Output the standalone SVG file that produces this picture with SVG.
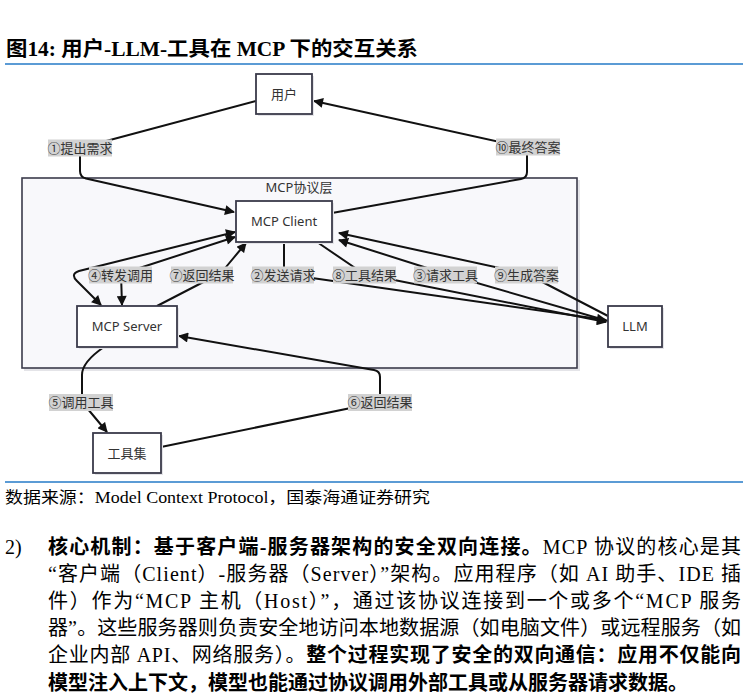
<svg xmlns="http://www.w3.org/2000/svg" width="748" height="700" viewBox="0 0 748 700">
<defs>
<marker id="arr" viewBox="0 0 10 10" refX="9" refY="5" markerUnits="userSpaceOnUse" markerWidth="11" markerHeight="10" orient="auto-start-reverse">
<path d="M0,0 L10,5 L0,10 z" fill="#111"/>
</marker>
<style>
.node rect.b{fill:#fff;stroke:#3a3a4a;stroke-width:1.8}
.sh{fill:#e4e4e8}
.nt{font-family:"Noto Sans","Noto Sans CJK SC",sans-serif;font-size:13px;fill:#333;text-anchor:middle}
.e{fill:none;stroke:#111;stroke-width:2;stroke-linejoin:round}
.lb rect{fill:#d2d2d2}
.lb text{font-family:"Noto Sans CJK SC",sans-serif;font-size:13px;fill:#333;text-anchor:middle}
.rule{stroke:#5b9bd5;stroke-width:2}
.body{font-family:"Liberation Serif","Noto Sans CJK SC",serif;font-size:20px;fill:#000}
.bd{font-weight:bold}
</style>
</defs>
<rect width="748" height="700" fill="#fff"/>
<text x="6" y="56" class="body bd" style="font-size:20px" textLength="412" lengthAdjust="spacingAndGlyphs">图14:  用户-LLM-工具在 MCP 下的交互关系</text>
<line class="rule" x1="5" y1="64" x2="743" y2="64"/>

<g id="layer">
<rect class="sh" x="24" y="180" width="556" height="191"/>
<rect x="22" y="178" width="555" height="190" fill="#f8f8fb" stroke="#3b3b4b" stroke-width="1.6"/>
<text class="nt" x="299" y="192">MCP协议层</text>
</g>

<g id="connectors">
<path class="e" d="M256,101 L80,148 L80,171 Q80,177 86,178.5 L234,212" marker-end="url(#arr)"/>
<path class="e" d="M332,213 L521,179 Q527,178 527,172 L527,148 L314,101" marker-end="url(#arr)"/>
<path class="e" d="M284,242 L284,274 L606,320" marker-end="url(#arr)"/>
<path class="e" d="M317,242 L364,274 L606,322" marker-end="url(#arr)"/>
<path class="e" d="M608,321 L446,274 L339,240" marker-end="url(#arr)"/>
<path class="e" d="M608,316 L527,274 L339,233" marker-end="url(#arr)"/>
<path class="e" d="M235,232 L79,271 Q70,274 77,281 L101,305" marker-start="url(#arr)" marker-end="url(#arr)"/>
<path class="e" d="M235,237 L121,274 L122,305" marker-start="url(#arr)" marker-end="url(#arr)"/>
<path class="e" d="M157,306 L215,276 Q222,272 226,267 L246,243" marker-end="url(#arr)"/>
<path class="e" d="M104,347 Q82,362 82,375 L82,402 L107,432" marker-end="url(#arr)"/>
<path class="e" d="M161,447 L380,402 L380,377 Q380,371 374,370 L179,336" marker-end="url(#arr)"/>
</g>

<g id="labels">
<g class="lb"><rect x="48" y="139.5" width="64" height="17"/><text x="80" y="152.5">①提出需求</text></g>
<g class="lb"><rect x="496" y="138.5" width="64" height="17"/><text x="528" y="151.5">⑩最终答案</text></g>
<g class="lb"><rect x="89" y="266.5" width="63" height="17"/><text x="120.5" y="279.5">④转发调用</text></g>
<g class="lb"><rect x="171" y="266.5" width="62" height="17"/><text x="202" y="279.5">⑦返回结果</text></g>
<g class="lb"><rect x="252" y="266.5" width="62" height="17"/><text x="283" y="279.5">②发送请求</text></g>
<g class="lb"><rect x="333" y="266.5" width="63" height="17"/><text x="364.5" y="279.5">⑧工具结果</text></g>
<g class="lb"><rect x="414" y="266.5" width="63" height="17"/><text x="445.5" y="279.5">③请求工具</text></g>
<g class="lb"><rect x="495" y="266.5" width="63" height="17"/><text x="526.5" y="279.5">⑨生成答案</text></g>
<g class="lb"><rect x="49" y="394" width="64" height="17"/><text x="81" y="407">⑤调用工具</text></g>
<g class="lb"><rect x="348" y="394" width="64" height="17"/><text x="380" y="407">⑥返回结果</text></g>
</g>

<g id="user" class="node"><rect class="sh" x="258" y="76" width="56" height="40"/><rect class="b" x="256" y="74" width="56" height="40"/><text class="nt" x="284" y="98.5">用户</text></g>
<g id="client" class="node"><rect class="sh" x="238" y="203" width="96" height="41"/><rect class="b" x="236" y="201" width="96" height="41"/><text class="nt" x="284" y="226">MCP Client</text></g>
<g id="server" class="node"><rect class="sh" x="79" y="308" width="100" height="41"/><rect class="b" x="77" y="306" width="100" height="41"/><text class="nt" x="127" y="331">MCP Server</text></g>
<g id="llm" class="node"><rect class="sh" x="610" y="308" width="54" height="41"/><rect class="b" x="608" y="306" width="54" height="41"/><text class="nt" x="635" y="331">LLM</text></g>
<g id="tools" class="node"><rect class="sh" x="95" y="435" width="68" height="40"/><rect class="b" x="93" y="433" width="68" height="40"/><text class="nt" x="127" y="457.5">工具集</text></g>

<line class="rule" x1="5" y1="482" x2="743" y2="482"/>
<text x="5" y="503" class="body" style="font-size:16px" textLength="425" lengthAdjust="spacingAndGlyphs">数据来源：Model Context Protocol，国泰海通证券研究</text>

<text x="5" y="554" class="body">2)</text>
<text x="48" y="554" class="body" textLength="693" lengthAdjust="spacing"><tspan class="bd">核心机制：基于客户端-服务器架构的安全双向连接。</tspan>MCP 协议的核心是其</text>
<text x="48" y="581" class="body" textLength="693" lengthAdjust="spacing">“客户端（Client）-服务器（Server）”架构。应用程序（如 AI 助手、IDE 插</text>
<text x="48" y="608" class="body" textLength="693" lengthAdjust="spacing">件）作为“MCP 主机（Host）”，通过该协议连接到一个或多个“MCP 服务</text>
<text x="48" y="635" class="body" textLength="693" lengthAdjust="spacing">器”。这些服务器则负责安全地访问本地数据源（如电脑文件）或远程服务（如</text>
<text x="48" y="662" class="body" textLength="693" lengthAdjust="spacing">企业内部 API、网络服务）。<tspan class="bd">整个过程实现了安全的双向通信：应用不仅能向</tspan></text>
<text x="48" y="690" class="body bd">模型注入上下文，模型也能通过协议调用外部工具或从服务器请求数据。</text>
</svg>
